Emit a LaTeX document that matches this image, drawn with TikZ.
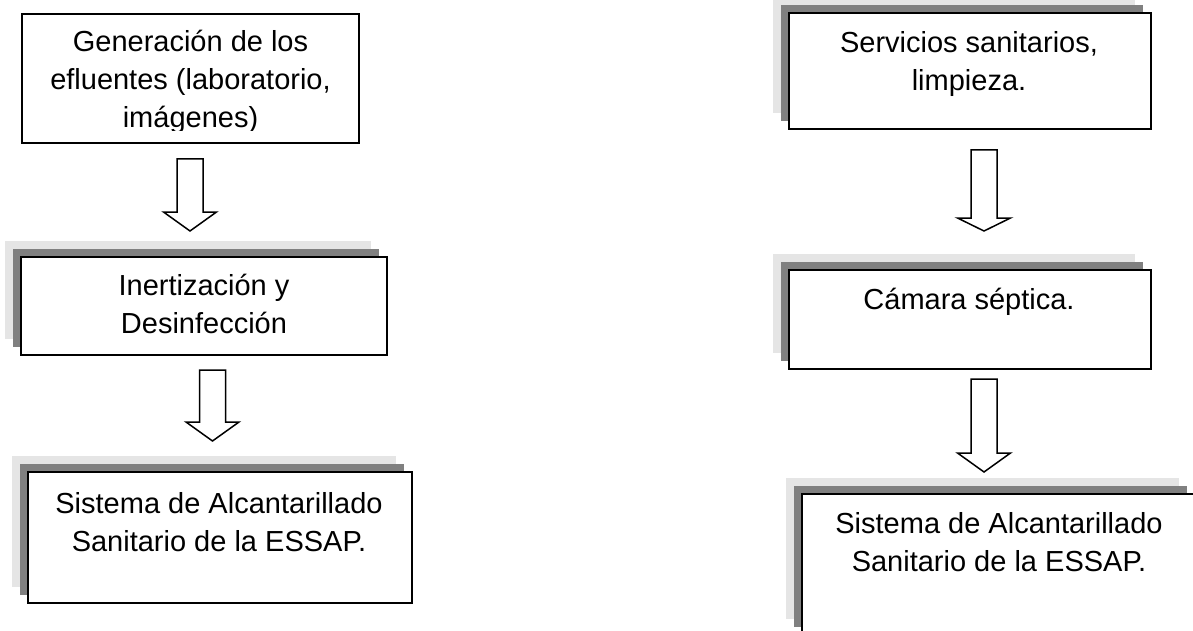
\documentclass[tikz,border=0pt]{standalone}
\usepackage{fontspec}
\setmainfont{Liberation Sans}
\usetikzlibrary{shadows}
\definecolor{grisclaro}{gray}{0.90}
\definecolor{grisoscuro}{gray}{0.50}
% hollow down arrow: x, y top, y head base, y tip
\newcommand{\flechahueca}[4]{%
  \draw[flecha] (#1-13,#2) -- (#1+13,#2) -- (#1+13,#3) -- (#1+26.5,#3)
    -- (#1,#4) -- (#1-26.5,#3) -- (#1-13,#3) -- cycle;}

\begin{document}
\begin{tikzpicture}[x=1pt,y=-1pt,
    caja/.style={draw=black,line width=2pt,fill=white,inner sep=0pt},
    sombra/.style={caja,
      copy shadow={shadow xshift=-16pt,shadow yshift=16pt,fill=grisclaro,draw=none},
      copy shadow={shadow xshift=-8pt,shadow yshift=8pt,fill=grisoscuro,draw=none}},
    texto/.style={align=center,inner sep=0pt,font=\fontsize{29}{38}\selectfont},
    flecha/.style={draw=black,line width=1.5pt,fill=white,line join=miter}]
   \clip (0,0) rectangle (1193,631);
   % left column
   \node[caja,line width=1.6pt,minimum width=337pt,minimum height=129pt] (gen) at (190.5,78.5) {};
   \begin{scope}
      \clip (22,14) rectangle (359,131);
      \node[texto] (gentxt) at (190.5,82) {Generación de los\\efluentes (laboratorio,\\imágenes)};
   \end{scope}
   \node[sombra,minimum width=366pt,minimum height=98pt] (inert) at (204,306) {};
   \node[texto] (inerttxt) at (204,304) {Inertización y\\Desinfección};
   \node[sombra,minimum width=384pt,minimum height=131pt] (sisa) at (220,537.5) {};
   \node[texto] (sisatxt) at (219,522) {Sistema de Alcantarillado\\Sanitario de la ESSAP.};
   % right column
   \node[sombra,minimum width=362pt,minimum height=116pt] (serv) at (970,71) {};
   \node[texto] (servtxt) at (969,64) {Servicios sanitarios,\\limpieza.};
   \node[sombra,minimum width=362pt,minimum height=99pt] (cam) at (970,319.5) {};
   \node[texto] (camtxt) at (969,302) {Cámara séptica.};
   \node[sombra,minimum width=393pt,minimum height=141pt] (sisb) at (998.5,564.5) {};
   \node[texto] (sisbtxt) at (999,542.5) {Sistema de Alcantarillado\\Sanitario de la ESSAP.};
   % arrows
   \flechahueca{190}{159}{212}{231}
   \flechahueca{212.5}{370}{422}{441}
   \flechahueca{984}{150}{218}{231}
   \flechahueca{984}{379}{453}{472}
\end{tikzpicture}
\end{document}
